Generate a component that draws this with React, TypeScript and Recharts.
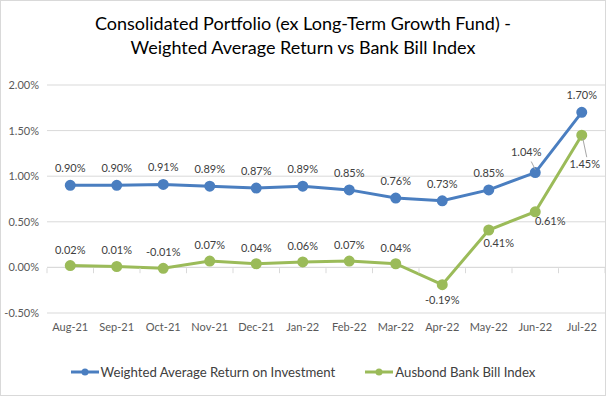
import { LineChart, Line, XAxis, YAxis, CartesianGrid, ReferenceLine, LabelList } from 'recharts';

const months = ['Aug-21', 'Sep-21', 'Oct-21', 'Nov-21', 'Dec-21', 'Jan-22', 'Feb-22', 'Mar-22', 'Apr-22', 'May-22', 'Jun-22', 'Jul-22'];
const weightedReturn = [0.9, 0.9, 0.91, 0.89, 0.87, 0.89, 0.85, 0.76, 0.73, 0.85, 1.04, 1.7];
const bankBill = [0.02, 0.01, -0.01, 0.07, 0.04, 0.06, 0.07, 0.04, -0.19, 0.41, 0.61, 1.45];
const yTicks = [-0.5, 0, 0.5, 1, 1.5, 2];

const BLUE = '#4A7EC0';
const GREEN = '#9BBB59';
const FONT = 'Lato, "Open Sans", sans-serif';

const W = 604;
const H = 394;
const TOP = 84;
const BOTTOM = 81;
const Y_AXIS_W = 46;
const PLOT_H = H - TOP - BOTTOM;
const ZERO_Y = TOP + PLOT_H * (2 / 2.5);
const HALF_BAND = (W - Y_AXIS_W) / months.length / 2;

const data = months.map((m, i) => ({ month: m, wavg: weightedReturn[i], bbi: bankBill[i] }));

const pct = (v: number) => `${v.toFixed(2)}%`;

const BlueLabel = (props: any) => {
  const { x, y, value, index } = props;
  if (index === 10) {
    return (
      <g>
        <line x1={x - 4} y1={y - 11} x2={x} y2={y - 3} stroke="#A6A6A6" strokeWidth={1} />
        <text x={x - 9} y={y - 17} textAnchor="middle" fontSize={11} fill="#404040" fontFamily={FONT}>{pct(value)}</text>
      </g>
    );
  }
  return (
    <text x={x} y={y - 13} textAnchor="middle" fontSize={11} fill="#404040" fontFamily={FONT}>{pct(value)}</text>
  );
};

const GreenLabel = (props: any) => {
  const { x, y, value, index } = props;
  let dx = 0;
  let dy = -12;
  if (index === 8) dy = 19;
  if (index === 9) { dx = 10; dy = 17; }
  if (index === 10) { dx = 15; dy = 13; }
  if (index === 11) { dx = 3; dy = 33; }
  return (
    <g>
      {index === 11 && <line x1={x + 1} y1={y + 3} x2={x + 5} y2={y + 22} stroke="#A6A6A6" strokeWidth={1} />}
      <text x={x + dx} y={y + dy} textAnchor="middle" fontSize={11} fill="#404040" fontFamily={FONT}>{pct(value)}</text>
    </g>
  );
};

const MonthTick = (props: any) => {
  const { x, y, payload, index } = props;
  return (
    <g>
      <line x1={x - HALF_BAND} y1={ZERO_Y} x2={x - HALF_BAND} y2={ZERO_Y + 5} stroke="#D9D9D9" />
      {index === months.length - 1 && <line x1={x + HALF_BAND} y1={ZERO_Y} x2={x + HALF_BAND} y2={ZERO_Y + 5} stroke="#D9D9D9" />}
      <text x={x} y={y + 10} textAnchor="middle" fontSize={11} fill="#595959" fontFamily={FONT}>{payload.value}</text>
    </g>
  );
};

const legendItems = [
  { name: 'Weighted Average Return on Investment', color: BLUE },
  { name: 'Ausbond Bank Bill Index', color: GREEN },
];

export default function App() {
  return (
    <div style={{ position: 'absolute', left: 0, top: 0, width: W, height: H, border: '1px solid #D9D9D9', background: '#fff' }}>
      <div style={{ position: 'absolute', top: 10, left: 0, width: W, textAlign: 'center', fontFamily: FONT, fontSize: 18, lineHeight: '24px', color: '#000' }}>
        Consolidated Portfolio (ex Long-Term Growth Fund) -<br />Weighted Average Return vs Bank Bill Index
      </div>
      <LineChart width={W} height={H} data={data} margin={{ top: TOP, right: 0, bottom: BOTTOM, left: 0 }}>
        <CartesianGrid vertical={false} stroke="#D9D9D9" />
        <XAxis
          dataKey="month"
          axisLine={false}
          tickLine={false}
          tick={<MonthTick />}
          interval={0}
          height={1}
          padding={{ left: HALF_BAND, right: HALF_BAND }}
        />
        <YAxis
          domain={[-0.5, 2]}
          ticks={yTicks}
          tickFormatter={pct}
          axisLine={false}
          tickLine={false}
          width={Y_AXIS_W}
          tick={{ fontSize: 11, fill: '#595959', fontFamily: FONT }}
        />
        <ReferenceLine y={0} stroke="#D9D9D9" />
        <Line dataKey="wavg" name="Weighted Average Return on Investment" stroke={BLUE} strokeWidth={3} dot={{ r: 4, fill: BLUE, stroke: BLUE }} isAnimationActive={false}>
          <LabelList dataKey="wavg" content={<BlueLabel />} />
        </Line>
        <Line dataKey="bbi" name="Ausbond Bank Bill Index" stroke={GREEN} strokeWidth={3} dot={{ r: 4, fill: GREEN, stroke: GREEN }} isAnimationActive={false}>
          <LabelList dataKey="bbi" content={<GreenLabel />} />
        </Line>
      </LineChart>
      <div style={{ position: 'absolute', top: 363, left: 0, width: W, display: 'flex', justifyContent: 'center', gap: 30, fontFamily: FONT, fontSize: 13.2, color: '#404040' }}>
        {legendItems.map((it) => (
          <div key={it.name} style={{ display: 'flex', alignItems: 'center' }}>
            <svg width={28} height={10} style={{ marginRight: 2 }}>
              <line x1={0} y1={5} x2={28} y2={5} stroke={it.color} strokeWidth={3} />
              <circle cx={14} cy={5} r={3.5} fill={it.color} />
            </svg>
            <span>{it.name}</span>
          </div>
        ))}
      </div>
    </div>
  );
}
